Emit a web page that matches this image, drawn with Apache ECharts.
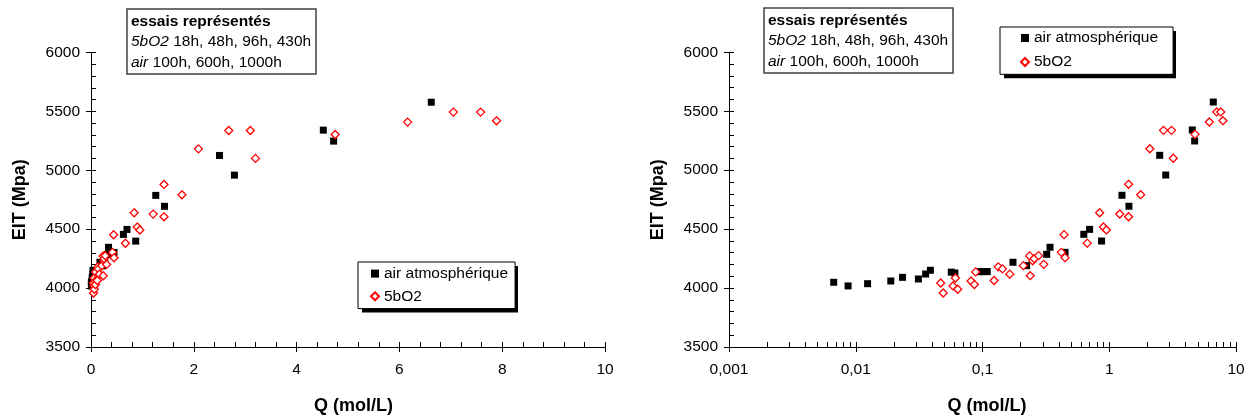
<!DOCTYPE html>
<html><head><meta charset="utf-8">
<script src="https://cdn.jsdelivr.net/npm/echarts@6/dist/echarts.min.js"></script>
<style>html,body{margin:0;padding:0;background:#fff}#c{width:1253px;height:420px}</style>
</head><body><div id="c"></div>
<script>
// ---- data ----
const airQ   = [0.0067, 0.0087, 0.0124, 0.0189, 0.0234, 0.0312, 0.0356, 0.0388, 0.0567, 0.0605, 0.095, 0.102, 0.109, 0.174, 0.223, 0.321, 0.341, 0.448, 0.63, 0.70, 0.87, 1.26, 1.43, 2.5, 2.79, 4.52, 4.72, 6.62];
const airEIT = [4049, 4018, 4037, 4060, 4091, 4077, 4119, 4151, 4135, 4128, 4139, 4139, 4140, 4219, 4190, 4286, 4346, 4303, 4456, 4498, 4399, 4787, 4694, 5126, 4959, 5341, 5248, 5578];
const bo2Q   = [0.0468, 0.049, 0.0585, 0.0611, 0.0637, 0.0812, 0.0863, 0.0884, 0.1234, 0.133, 0.1436, 0.164, 0.210, 0.2355, 0.238, 0.249, 0.256, 0.277, 0.304, 0.419, 0.448, 0.44, 0.67, 0.84, 0.90, 0.95, 1.21, 1.42, 1.42, 1.77, 2.09, 2.68, 3.1, 3.2, 4.75, 6.16, 7.05, 7.58, 7.89];
const bo2EIT = [4043, 3958, 4018, 4085, 3990, 4060, 4030, 4137, 4064, 4180, 4163, 4118, 4190, 4273, 4105, 4232, 4250, 4275, 4201, 4303, 4258, 4453, 4381, 4639, 4518, 4493, 4628, 4880, 4605, 4792, 5182, 5338, 5338, 5101, 5304, 5409, 5494, 5494, 5420];
const seriesNames = ['air atmosphérique', '5bO2'];
const linXTickLabels = ['0', '2', '4', '6', '8', '10'];
const logXTickLabels = ['0,001', '0,01', '0,1', '1', '10'];
const yTickLabels = ['3500', '4000', '4500', '5000', '5500', '6000'];
const logMinorTicks = [0.001,0.002,0.003,0.004,0.005,0.006,0.007,0.008,0.009,
  0.01,0.02,0.03,0.04,0.05,0.06,0.07,0.08,0.09,
  0.1,0.2,0.3,0.4,0.5,0.6,0.7,0.8,0.9,
  1,2,3,4,5,6,7,8,9,10];
const xTitle = 'Q (mol/L)';
const yTitle = 'EIT (Mpa)';
const noteText = '{b|essais représentés}\n{i|5bO2} {n|18h, 48h, 96h, 430h}\n{i|air} {n|100h, 600h, 1000h}';

// ---- chart ----
const FONT = "'Liberation Sans', Arial, sans-serif";
const pair = (xs, ys) => xs.map((x, i) => [x, ys[i]]);
const airData = pair(airQ, airEIT);
const bo2Data = pair(bo2Q, bo2EIT);

const lineStyle = { color: '#000', width: 1 };
const labelStyle = { color: '#000', fontSize: 15.5, fontFamily: FONT };
const nameStyle = { color: '#000', fontSize: 18, fontWeight: 'bold', fontFamily: FONT };

function primaryX(grid, cfg) {
  return Object.assign({
    gridIndex: grid, position: 'bottom', offset: 0,
    name: xTitle, nameLocation: 'middle', nameGap: 50,
    axisLine: { show: true, onZero: false, lineStyle },
    axisTick: { show: true, inside: false, length: 5, lineStyle },
    splitLine: { show: false }
  }, cfg);
}
function overlayX(grid, cfg) {
  return Object.assign({
    gridIndex: grid, position: 'bottom', offset: 0,
    axisLine: { show: false },
    axisTick: { show: true, inside: true, length: 5, lineStyle },
    axisLabel: { show: false }, splitLine: { show: false }
  }, cfg);
}
function primaryY(grid) {
  return {
    type: 'value', gridIndex: grid, position: 'left', offset: 0,
    min: 3500, max: 6000, interval: 500,
    name: yTitle, nameLocation: 'middle', nameGap: 62, nameTextStyle: nameStyle,
    axisLine: { show: true, onZero: false, lineStyle },
    axisTick: { show: true, inside: false, length: 5, lineStyle },
    splitLine: { show: false },
    axisLabel: Object.assign({ margin: 11, formatter: (v, i) => yTickLabels[i] }, labelStyle)
  };
}
function overlayY(grid) {
  return {
    type: 'value', gridIndex: grid, position: 'left', offset: 0,
    min: 3500, max: 6000, interval: 100,
    axisLine: { show: false },
    axisTick: { show: true, inside: true, length: 5, lineStyle },
    axisLabel: { show: false }, splitLine: { show: false }
  };
}
function legendCfg(left, top, padding, gap) {
  return {
    data: seriesNames, orient: 'vertical', left, top, padding, itemGap: gap, z: 10,
    itemWidth: 8, itemHeight: 8,
    backgroundColor: '#fff', borderColor: '#000', borderWidth: 1,
    textStyle: { color: '#000', fontSize: 15.5, lineHeight: 16, fontFamily: FONT }
  };
}
function noteCfg(left, top) {
  const base = { fontFamily: FONT, fontSize: 15.5, color: '#000', lineHeight: 20.5, fontWeight: 'normal' };
  return {
    left, top, text: noteText, padding: [2, 5, 2, 4],
    borderColor: '#404040', borderWidth: 1.5, backgroundColor: '#fff',
    textStyle: Object.assign({}, base, {
      rich: {
        b: Object.assign({}, base, { fontWeight: 'bold' }),
        i: Object.assign({}, base, { fontStyle: 'italic' }),
        n: Object.assign({}, base)
      }
    })
  };
}
function airSeries(xi, yi) {
  return { name: seriesNames[0], type: 'scatter', xAxisIndex: xi, yAxisIndex: yi, data: airData,
    symbol: 'rect', symbolSize: 7, itemStyle: { color: '#000', opacity: 1 } };
}
function bo2Series(xi, yi) {
  return { name: seriesNames[1], type: 'scatter', xAxisIndex: xi, yAxisIndex: yi, data: bo2Data,
    symbol: 'diamond', symbolSize: 8, itemStyle: { color: '#fff', borderColor: '#ff0000', borderWidth: 1.3, opacity: 1 } };
}

const chart = echarts.init(document.getElementById('c'), null, { renderer: 'canvas' });
chart.setOption({
  backgroundColor: '#fff',
  animation: false,
  textStyle: { fontFamily: FONT },
  title: [noteCfg(127, 9), noteCfg(764, 8)],
  legend: [legendCfg(358, 262, [3.6, 7, 4.3, 12], 6.7), legendCfg(1000, 27, [3, 15, 4.3, 20], 8)],
  graphic: [
    { type: 'rect', z: 5, shape: { x: 362, y: 266, width: 156, height: 46.6 }, style: { fill: '#000' } },
    { type: 'rect', z: 5, shape: { x: 1004, y: 31, width: 172, height: 47.3 }, style: { fill: '#000' } }
  ],
  grid: [
    { left: 91, top: 52.5, width: 514, height: 295 },
    { left: 729, top: 52.3, width: 507, height: 295 }
  ],
  xAxis: [
    primaryX(0, { type: 'value', min: 0, max: 10, interval: 2,
      nameTextStyle: Object.assign({ padding: [0, 0, 0, 11] }, nameStyle),
      axisLabel: Object.assign({ margin: 15, formatter: (v, i) => linXTickLabels[i] }, labelStyle) }),
    overlayX(0, { type: 'value', min: 0, max: 10, interval: 0.4 }),
    primaryX(1, { type: 'log', logBase: 10, min: 0.001, max: 10,
      nameTextStyle: Object.assign({ padding: [0, 0, 0, 9] }, nameStyle),
      axisLabel: Object.assign({ margin: 15, formatter: (v, i) => logXTickLabels[i] }, labelStyle) }),
    overlayX(1, { type: 'log', logBase: 10, min: 0.001, max: 10,
      axisTick: { show: true, inside: true, length: 5, lineStyle, customValues: logMinorTicks } })
  ],
  yAxis: [primaryY(0), overlayY(0), primaryY(1), overlayY(1)],
  series: [airSeries(0, 0), bo2Series(0, 0), airSeries(2, 2), bo2Series(2, 2)]
});
</script></body></html>
